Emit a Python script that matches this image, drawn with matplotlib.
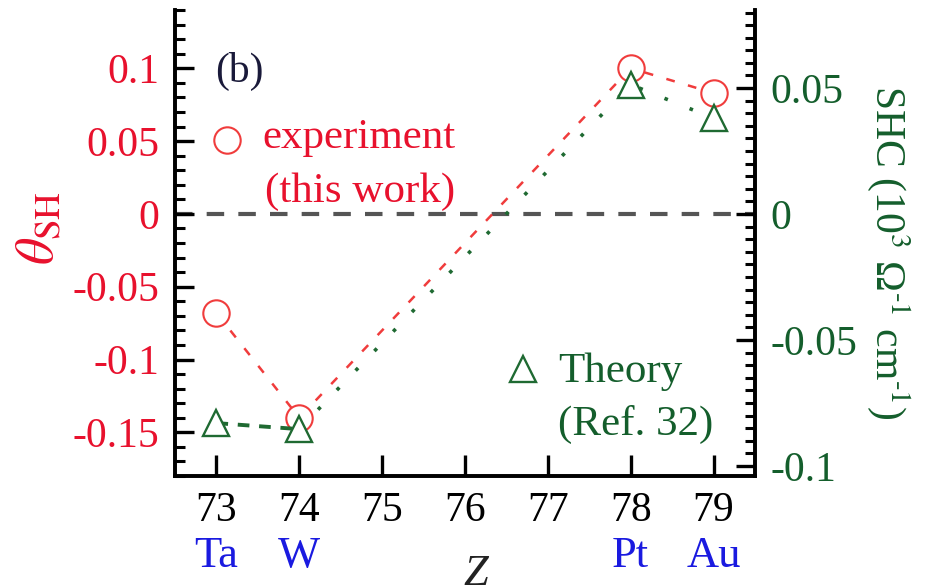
"""Spin Hall angle and spin Hall conductivity of 5d metals versus atomic number."""
import matplotlib

matplotlib.use("Agg")  # headless
import matplotlib.pyplot as plt  # noqa: E402
from matplotlib.ticker import MultipleLocator, FuncFormatter  # noqa: E402
from matplotlib.transforms import blended_transform_factory  # noqa: E402

# measured / calculated values
z_metal = [73, 74, 78, 79]
elements = ["Ta", "W", "Pt", "Au"]
theta_sh = [-0.068, -0.14, 0.10, 0.083]          # experiment, left axis
shc_theory = [-0.083, -0.0854, 0.0514, 0.038]    # theory, right axis (10^3 / Ohm cm)
z_ticks = [73, 74, 75, 76, 77, 78, 79]

C_RED = "#e8112d"
C_RED_MARK = "#f03c3c"
C_GREEN = "#145e2c"
C_GREEN_MARK = "#1f6a32"
C_BLUE = "#1a1ae0"

plt.rcParams.update({
    "font.family": ["Liberation Serif", "DejaVu Serif"],
    "mathtext.fontset": "stix",
    "axes.unicode_minus": False,
    "font.size": 30,
})


def _num(v, _pos):
    return f"{v:g}" if abs(v) > 1e-9 else "0"


fig = plt.figure(figsize=(9.3, 5.86), dpi=100)
ax = fig.add_axes([175 / 930, 110 / 586, 580 / 930, 466 / 586])
ax2 = ax.twinx()

# zero reference
ax.axhline(0, color="#555555", linewidth=3.0, linestyle=(0, (4.2, 3.4)), zorder=1)

# experiment (left axis)
ax.plot(z_metal, theta_sh, color=C_RED_MARK, linewidth=1.8,
        linestyle=(0, (3.5, 5.5)), marker="o", markersize=19,
        markerfacecolor="white", markeredgecolor=C_RED_MARK,
        markeredgewidth=1.5, zorder=3)

# theory (right axis): Ta-W dashed, rest dotted
ax2.plot(z_metal[:2], shc_theory[:2], color=C_GREEN_MARK, linewidth=2.8,
         linestyle=(0, (3, 2.5)), zorder=2)
ax2.plot(z_metal[1:], shc_theory[1:], color=C_GREEN_MARK, linewidth=2.6,
         linestyle=(0, (1, 6.5)), zorder=2)
ax2.plot(z_metal, shc_theory, linestyle="none", marker="^", markersize=19,
         markerfacecolor="white", markeredgecolor=C_GREEN_MARK,
         markeredgewidth=1.7, zorder=3)

ax.set_xlim(72.5, 79.5)
ax.set_ylim(-0.18, 0.14)
ax2.set_ylim(-0.104, 0.081)

for a in (ax, ax2):
    a.spines["top"].set_visible(False)
    for s in ("left", "right", "bottom"):
        a.spines[s].set_linewidth(2.6)

ax.set_xticks(z_ticks)
ax.set_xticklabels([str(t) for t in z_ticks])
ax.yaxis.set_major_locator(MultipleLocator(0.05))
ax.yaxis.set_minor_locator(MultipleLocator(0.01))
ax.yaxis.set_major_formatter(FuncFormatter(_num))
ax2.yaxis.set_major_locator(MultipleLocator(0.05))
ax2.yaxis.set_minor_locator(MultipleLocator(0.005))
ax2.yaxis.set_major_formatter(FuncFormatter(_num))

ax.tick_params(axis="x", which="major", direction="in", length=15, width=2.4,
               pad=11, labelsize=30, top=False)
ax.tick_params(axis="y", which="major", direction="in", length=14, width=2.4,
               pad=11, labelsize=30, labelcolor=C_RED, right=False)
ax.tick_params(axis="y", which="minor", direction="in", length=7, width=2.2,
               right=False)
ax2.tick_params(axis="y", which="major", direction="in", length=14, width=2.4,
                pad=11, labelsize=30, labelcolor=C_GREEN)
ax2.tick_params(axis="y", which="minor", direction="in", length=7, width=2.2)

# element names under the atomic numbers
trans = blended_transform_factory(ax.transData, ax.transAxes)
for zz, name in zip(z_metal, elements):
    ax.text(zz, -0.195, name, transform=trans, ha="center", va="baseline",
            fontsize=32, color=C_BLUE)

fig.text(476 / 930, 1 / 586, "Z", ha="center", va="baseline", fontsize=32,
         fontstyle="italic", color="#222222")

# axis titles
fig.text(40 / 930, 1 - 228 / 586, r"$\theta_{\rm SH}$", rotation=90,
         ha="center", va="center", fontsize=38, color=C_RED)
fig.text(888 / 930, 1 - 252 / 586,
         "SHC (10$^{3}$ \u03a9$^{\\text{-}1}$ cm$^{\\text{-}1}$)",
         rotation=-90, ha="center", va="center", fontsize=30, color=C_GREEN)

# panel tag and in-plot key
ax.text(0.069, 0.845, "(b)", transform=ax.transAxes, fontsize=30,
        color="#1a1a3a", va="baseline")
ax.plot([0.0897], [0.721], transform=ax.transAxes, linestyle="none",
        marker="o", markersize=19, markerfacecolor="none",
        markeredgecolor=C_RED_MARK, markeredgewidth=1.5, clip_on=False)
ax.text(0.150, 0.704, "experiment", transform=ax.transAxes, fontsize=31,
        color=C_RED, va="baseline")
ax.text(0.155, 0.588, "(this work)", transform=ax.transAxes, fontsize=31,
        color=C_RED, va="baseline")
ax.plot([0.600], [0.2296], transform=ax.transAxes, linestyle="none",
        marker="^", markersize=19, markerfacecolor="none",
        markeredgecolor=C_GREEN_MARK, markeredgewidth=1.7, clip_on=False)
ax.text(0.660, 0.2017, "Theory", transform=ax.transAxes, fontsize=31,
        color=C_GREEN, va="baseline")
ax.text(0.660, 0.088, "(Ref. 32)", transform=ax.transAxes, fontsize=31,
        color=C_GREEN, va="baseline")

fig.savefig("out.png", dpi=100)
